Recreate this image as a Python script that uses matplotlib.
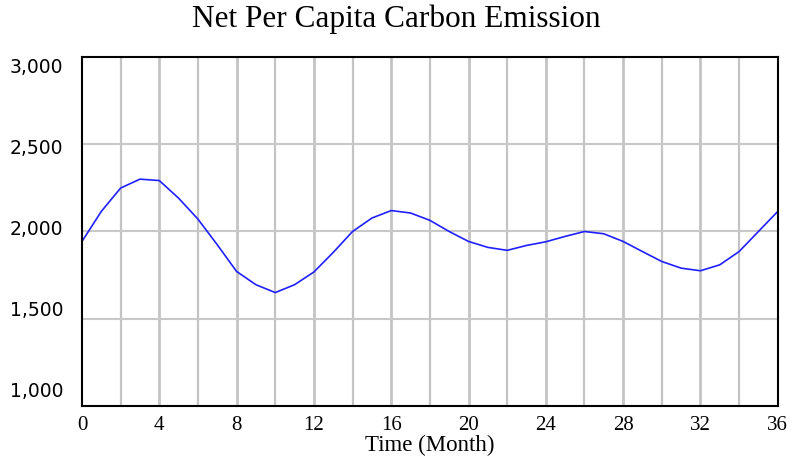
import matplotlib
matplotlib.use('Agg')
import matplotlib.pyplot as plt
import matplotlib.transforms as mtrans

# ── DATA ───────────────────────────────────────
months = list(range(0, 37))
emission = [1943, 2115, 2249, 2300, 2292, 2191, 2071, 1924, 1771, 1695,
            1650, 1695, 1768, 1880, 2000, 2077, 2120, 2106, 2064, 2000,
            1943, 1909, 1892, 1920, 1941, 1972, 2000, 1987, 1943, 1885,
            1828, 1790, 1775, 1809, 1885, 2000, 2115]

x_ticks = list(range(0, 37, 4))
y_ticks = [1000, 1500, 2000, 2500, 3000]
y_labels = ['1,000', '1,500', '2,000', '2,500', '3,000']

SERIF = ['Liberation Serif', 'DejaVu Serif']

# ── FIGURE ─────────────────────────────────────
fig = plt.figure(figsize=(7.92, 4.59), dpi=100, facecolor='white')
ax = fig.add_axes([0.1035, 0.1155, 0.8785, 0.7603])

ax.set_xlim(0, 36)
ax.set_ylim(1000, 3000)

# vertical grid every 2 months
for m in range(2, 36, 2):
    ax.axvline(m, color='#c4c4c4', lw=2.0 if m % 4 == 0 else 1.6, zorder=1)
for v in [1500, 2000, 2500]:
    ax.axhline(v, color='#c8c8c8', lw=1.5, zorder=1)

ax.plot(months, emission, color='#2020ff', lw=1.2, zorder=3)

ax.set_xticks(x_ticks)
ax.set_xticklabels([str(t) for t in x_ticks], fontfamily=SERIF, fontsize=15)
ax.set_yticks(y_ticks)
ax.set_yticklabels(y_labels, fontfamily='DejaVu Sans', fontsize=13.5)
ax.tick_params(axis='both', length=0, colors='black')
ax.tick_params(axis='x', pad=7)
ax.tick_params(axis='y', pad=13.5)

# Vensim spreads the y labels evenly a bit inside the axis ends
shifts = [16, 10, 4, -2, -8]   # px, up
for lbl, dy in zip(ax.get_yticklabels(), shifts):
    lbl.set_transform(lbl.get_transform() +
                      mtrans.ScaledTranslation(0, dy / 100, fig.dpi_scale_trans))

for s in ax.spines.values():
    s.set_color('black')
    s.set_linewidth(1.5)
    s.set_zorder(4)

ax.set_xlabel('Time (Month)', fontfamily=SERIF, fontsize=16.5, labelpad=0)
fig.text(0.5, 0.958, 'Net Per Capita Carbon Emission', fontfamily=SERIF,
         fontsize=22.5, ha='center', va='center')

fig.savefig('out.png', dpi=100)
